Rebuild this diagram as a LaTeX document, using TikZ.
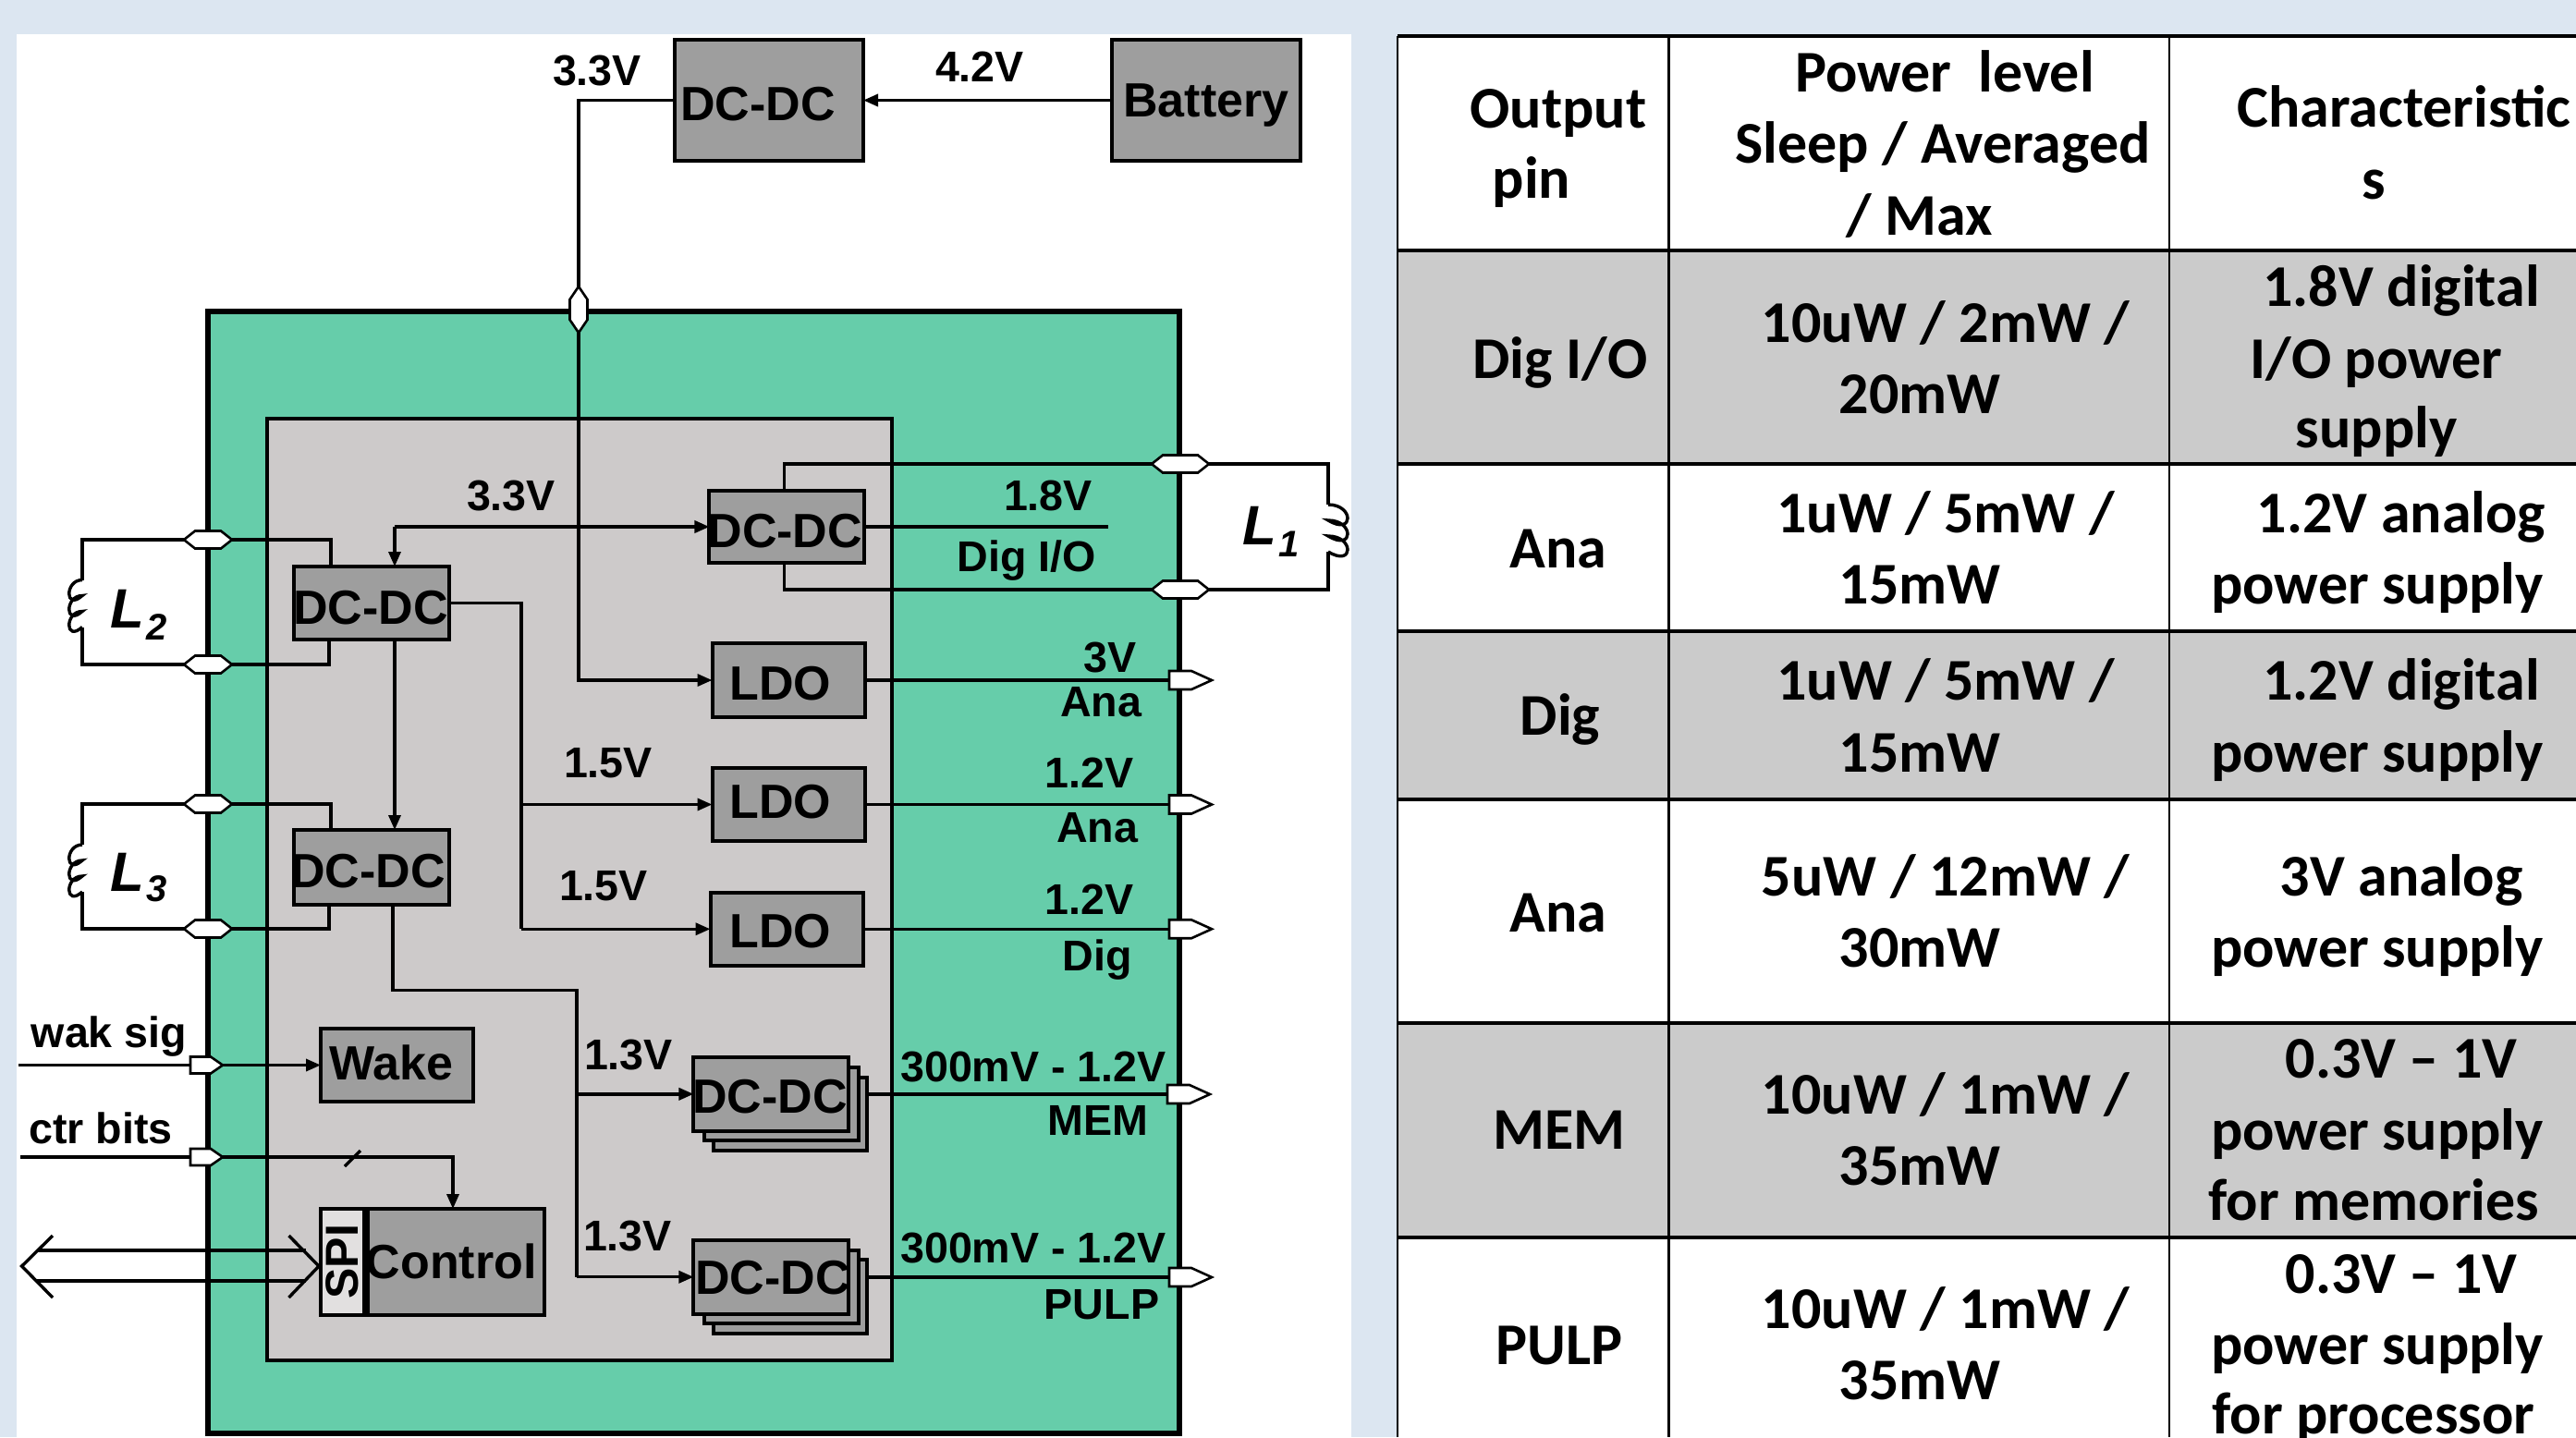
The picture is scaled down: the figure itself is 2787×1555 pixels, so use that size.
\documentclass[tikz,border=0pt]{standalone}
\usepackage{fontspec}
\usetikzlibrary{arrows.meta,calc}
\newfontfamily\diagfont{Liberation Sans}
\newfontfamily\tabfont{Carlito}
\definecolor{pagebg}{HTML}{DCE6F1}
\definecolor{chipgreen}{HTML}{66CDAA}
\definecolor{coregrey}{HTML}{CDCACA}
\definecolor{blockgrey}{HTML}{9E9E9E}
\definecolor{spigrey}{HTML}{E2E0E0}
\definecolor{rowgrey}{HTML}{CBCBCB}
\tikzset{
  wire/.style={draw=black,line width=1.7pt,line join=miter},
  arrowwire/.style={wire,-{Triangle[length=8pt,width=6.5pt]}},
  blockbox/.style={draw=black,line width=2pt,fill=blockgrey,inner sep=0pt,outer sep=0pt,
    text height=18.4pt,text depth=0pt,font=\diagfont\bfseries\fontsize{26}{26}\selectfont},
  stackbox/.style={draw=black,line width=2pt,fill=blockgrey},
  lab/.style={anchor=base,inner sep=0pt,font=\diagfont\bfseries\fontsize{23.3}{23.3}\selectfont},
  coillab/.style={anchor=base west,inner sep=0pt,font=\diagfont\bfseries\itshape\fontsize{30}{30}\selectfont},
  port/.style={draw=black,line width=1.3pt,fill=white,line join=miter},
  tabtext/.style={anchor=base,inner sep=0pt,yshift=-1pt,font=\tabfont\bfseries\fontsize{32}{32}\selectfont},
  tabline/.style={draw=black,line width=1.6pt},
  tablinev/.style={draw=black,line width=1.2pt},
}
\newcommand{\blk}[8]{\node[blockbox,minimum width={(#4-#2-4)*0.5pt},minimum height={(#5-#3-4)*0.5pt}] (#1) at ({(#2+#4)/2},{(#3+#5)/2}) {\kern#6\relax\raisebox{#7}{#8}\kern-\dimexpr#6\relax};}
\newcommand{\lbl}[4]{\node[lab] (#1) at (#2,#3) {#4};}
\newcommand{\tc}[4]{\node[tabtext] (#1) at (#2,#3) {#4};}
\newcommand{\outport}[1]{\draw[port] (#1) ++(-11,-10) -- ++(24,0) -- ++(22,10) -- ++(-22,10) -- ++(-24,0) -- cycle;}
\newcommand{\inport}[1]{\draw[port] (#1) ++(-19,-9) -- ++(22,0) -- ++(13,9) -- ++(-13,9) -- ++(-22,0) -- cycle;}
\newcommand{\hport}[2]{\draw[port] (#1) ++(-#2,0) -- ++(12,-9.5) -- ++({2*#2-24},0) -- ++(12,9.5) -- ++(-12,9.5) -- ++({-2*#2+24},0) -- cycle;}
\newcommand{\coil}[2]{\draw[wire] (#1) .. controls +(#2,0) and +(#2,17) .. ++(0,17) .. controls +(#2,0) and +(#2,17) .. ++(0,17) .. controls +(#2,0) and +(#2,17) .. ++(0,17);}
\begin{document}
\begin{tikzpicture}[x=0.5pt,y=-0.5pt]
\path[use as bounding box,clip] (0,0) rectangle (2787,1555);
\fill[pagebg] (0,0) rectangle (2787,1555);
\fill[white] (18,37) rectangle (1462,1555);
% chip
\draw[draw=black,line width=3.2pt,fill=chipgreen] (225,337) rectangle (1276,1551);
\draw[draw=black,line width=2pt,fill=coregrey] (289,452.5) rectangle (965,1472);
% coordinates
\coordinate (pinTop) at (626,335);
\coordinate (pinL1a) at (1277,502);
\coordinate (pinL1b) at (1277,638);
\coordinate (pinL2a) at (225,584);
\coordinate (pinL2b) at (225,719);
\coordinate (pinL3a) at (225,870);
\coordinate (pinL3b) at (225,1005);
\coordinate (pinWake) at (225,1152.5);
\coordinate (pinCtr) at (225,1252);
\coordinate (extWake) at (20,1152.5);
\coordinate (extCtr) at (22,1252);
\coordinate (coilLa) at (1437,546);
\coordinate (coilLb) at (89,627.5);
\coordinate (coilLc) at (89,914);
% blocks
\blk{topdc}{728}{41}{936}{176}{-6pt}{-2pt}{DC-DC}
\blk{batt}{1201}{41}{1409}{176}{0pt}{0pt}{Battery}
\blk{dcio}{766.5}{529}{936}{611}{-1pt}{-2pt}{DC-DC}
\blk{ldoA}{768.5}{694}{938}{778}{-4.5pt}{-1.5pt}{LDO}
\blk{ldoB}{768.5}{829}{938}{912}{-4.5pt}{1.5pt}{LDO}
\blk{ldoC}{766.5}{964}{936}{1046.5}{-3.5pt}{-1pt}{LDO}
\blk{dcB}{317.6}{611}{486.6}{694}{-0.5pt}{-2.5pt}{DC-DC}
\blk{dcC}{317.6}{896}{486.6}{980.6}{-2pt}{-2pt}{DC-DC}
\blk{wake}{345}{1111}{514}{1194}{-3pt}{1pt}{Wake}
\draw[stackbox] (772,1165.5) rectangle (938,1245);
\draw[stackbox] (762,1155) rectangle (928.6,1234);
\blk{dcM}{749}{1142}{919.4}{1225.6}{-0.5pt}{-1pt}{DC-DC}
\draw[stackbox] (772,1363) rectangle (938,1443);
\draw[stackbox] (762,1352.5) rectangle (928.6,1432);
\blk{dcP}{749}{1340}{919.4}{1423.5}{1pt}{0pt}{DC-DC}
\blk{ctrl}{395.5}{1306}{591}{1424.5}{-2.5pt}{0pt}{Control}
\node[draw=black,line width=2pt,fill=spigrey,inner sep=0pt,outer sep=0pt,minimum width=23.25pt,minimum height=57.25pt] (spi) at (370.25,1365.25) {\rotatebox{90}{\diagfont\bfseries\fontsize{25}{25}\selectfont SPI}};
% wires
\coordinate (busSplit) at (626,108.5);
\coordinate (jctIn) at (427,570);
\coordinate (bb) at (564,652.5);
\coordinate (cc) at (425,1071.5);
\coordinate (dd) at (624,1071.5);
\draw[wire] (topdc.west) -- (busSplit) -- (pinTop);
\draw[arrowwire] (pinTop) -- (ldoA.west -| pinTop) -- (ldoA.west);
\draw[arrowwire] (batt.west) -- (topdc.east);
\draw[arrowwire] (jctIn) -- (dcio.west);
\draw[arrowwire] (jctIn) -- (jctIn |- dcB.north);
\draw[arrowwire] (dcB.south -| jctIn) -- (dcC.north -| jctIn);
\draw[wire] (dcB.east) -- (bb) -- (bb |- ldoC.west);
\draw[arrowwire] (bb |- ldoB.west) -- (ldoB.west);
\draw[arrowwire] (bb |- ldoC.west) -- (ldoC.west);
\draw[wire] (dcC.south -| cc) -- (cc) -- (dd) -- (dd |- dcP.west);
\draw[arrowwire] (dd |- dcM.west) -- (dcM.west);
\draw[arrowwire] (dd |- dcP.west) -- (dcP.west);
\coordinate (dcioOut) at (1199,570);
\draw[wire] (dcio.east) -- (dcioOut);
\draw[wire] (ldoA.east) -- (ldoA.east -| pinL1a);
\draw[wire] (ldoB.east) -- (ldoB.east -| pinL1a);
\draw[wire] (ldoC.east) -- (ldoC.east -| pinL1a);
\coordinate (stackM) at (938,1184);
\coordinate (stackP) at (938,1382);
\draw[wire] (stackM) -- (stackM -| pinL1a);
\draw[wire] (stackP) -- (stackP -| pinL1a);
% L1 wiring
\coordinate (l1top) at (848.5,502);
\coordinate (l1bot) at (848.5,638);
\coordinate (l1r) at (1437,502);
\coordinate (l1e) at (1437,597);
\draw[wire] (l1top |- dcio.north) -- (l1top) -- (l1r) -- (coilLa);
\draw[wire] (l1bot |- dcio.south) -- (l1bot) -- (l1bot -| l1r) -- (l1e);
\coil{coilLa}{28}
% L2 wiring
\coordinate (l2a) at (358,584);
\coordinate (l2b) at (356,719);
\coordinate (l2l) at (89,584);
\coordinate (l2e) at (89,678.5);
\draw[wire] (l2a |- dcB.north) -- (l2a) -- (l2l) -- (coilLb);
\draw[wire] (l2b |- dcB.south) -- (l2b) -- (l2b -| l2l) -- (l2e);
\coil{coilLb}{-19}
% L3 wiring
\coordinate (l3a) at (358,870);
\coordinate (l3b) at (356,1005);
\coordinate (l3l) at (89,870);
\coordinate (l3e) at (89,965);
\draw[wire] (l3a |- dcC.north) -- (l3a) -- (l3l) -- (coilLc);
\draw[wire] (l3b |- dcC.south) -- (l3b) -- (l3b -| l3l) -- (l3e);
\coil{coilLc}{-19}
% signals
\draw[arrowwire] (extWake) -- (wake.west);
\coordinate (ctrTurn) at (490,1252);
\draw[arrowwire] (extCtr) -- (ctrTurn) -- (ctrTurn |- ctrl.north);
\coordinate (slashA) at (373,1262);
\coordinate (slashB) at (390,1245);
\draw[wire] (slashA) -- (slashB);
% SPI bus
\coordinate (busTipL) at (23.6,1370);
\coordinate (busTipR) at (345,1370);
\draw[wire] (40,1353) -- (331,1353);
\draw[wire] (40,1386) -- (331,1386);
\draw[wire] (57,1337) -- (busTipL) -- (57,1404);
\draw[wire] (312.5,1337) -- (busTipR) -- (312.5,1404);
% ports
\draw[port] (pinTop) ++(0,-25) -- ++(9.5,14) -- ++(0,22) -- ++(-9.5,14) -- ++(-9.5,-14) -- ++(0,-22) -- cycle;
\hport{pinL1a}{31}
\hport{pinL1b}{31}
\hport{pinL2a}{26}
\hport{pinL2b}{26}
\hport{pinL3a}{26}
\hport{pinL3b}{26}
\coordinate (outA) at (1276,736);
\coordinate (outB) at (1276,870.5);
\coordinate (outC) at (1276,1005.25);
\coordinate (outM) at (1274,1184);
\coordinate (outP) at (1276,1382);
\outport{outA}\outport{outB}\outport{outC}\outport{outM}\outport{outP}
\inport{pinWake}\inport{pinCtr}
% labels
\lbl{vTop}{646}{92}{3.3V}
\lbl{vBat}{1060}{88}{4.2V}
\lbl{vIn}{553}{552}{3.3V}
\lbl{vIO}{1134}{552.5}{1.8V}
\lbl{nIO}{1111}{618}{Dig I/O}
\lbl{v3}{1201}{727}{3V}
\lbl{nAnaA}{1191}{775.5}{Ana}
\lbl{v15a}{658}{841}{1.5V}
\lbl{v15b}{653}{974}{1.5V}
\lbl{v12a}{1178.6}{852}{1.2V}
\lbl{nAnaB}{1187}{911}{Ana}
\lbl{v12b}{1178.6}{989}{1.2V}
\lbl{nDig}{1187}{1050}{Dig}
\lbl{v13a}{680}{1157}{1.3V}
\lbl{v13b}{679}{1353}{1.3V}
\lbl{vMem}{1118}{1170}{300mV - 1.2V}
\lbl{nMem}{1188}{1228.5}{MEM}
\lbl{vPulp}{1118}{1366}{300mV - 1.2V}
\lbl{nPulp}{1192}{1427}{PULP}
\lbl{nWak}{118}{1133}{wak sig}
\lbl{nCtr}{109}{1237}{ctr bits}
\node[coillab] (labL1) at (1344,589) {L\kern1pt\raisebox{-6.5pt}{\fontsize{20}{20}\selectfont 1}};
\node[coillab] (labL2) at (119,679.6) {L\kern1pt\raisebox{-6.5pt}{\fontsize{20}{20}\selectfont 2}};
\node[coillab] (labL3) at (119,964.7) {L\kern1pt\raisebox{-5.5pt}{\fontsize{20}{20}\selectfont 3}};
% table
\fill[white] (1512,39) rectangle (2787,1555);
\fill[rowgrey] (1512,271) rectangle (2787,502);
\fill[rowgrey] (1512,683) rectangle (2787,865);
\fill[rowgrey] (1512,1107) rectangle (2787,1339);
\foreach \yy in {39,271,502,683,865,1107,1339} {\draw[tabline] (1512,\yy) -- (2787,\yy);}
\foreach \xx in {1512,1805.5,2347} {\draw[tablinev] (\xx,39) -- (\xx,1555);}
\tc{h1a}{1686}{136}{Output}
\tc{h1b}{1657}{212}{pin}
\tc{h2a}{2104}{97}{Power\ \ level}
\tc{h2b}{2102}{174.5}{Sleep / Averaged}
\tc{h2c}{2077}{252.5}{/ Max}
\tc{h3a}{2601}{135}{Characteristic}
\tc{h3b}{2568.5}{213}{s}
\tc{r1a}{1688}{407}{Dig I/O}
\tc{r1b}{2105}{368}{10uW / 2mW /}
\tc{r1c}{2077}{445}{20mW}
\tc{r1d}{2598}{329}{1.8V digital}
\tc{r1e}{2571}{407}{I/O power}
\tc{r1f}{2571}{482}{supply}
\tc{r2a}{1686}{612}{Ana}
\tc{r2b}{2105}{574}{1uW / 5mW /}
\tc{r2c}{2077}{651.5}{15mW}
\tc{r2d}{2598}{574}{1.2V analog}
\tc{r2e}{2572}{651.5}{power supply}
\tc{r3a}{1688}{793}{Dig}
\tc{r3b}{2105}{755}{1uW / 5mW /}
\tc{r3c}{2077}{833}{15mW}
\tc{r3d}{2598}{755}{1.2V digital}
\tc{r3e}{2572}{833}{power supply}
\tc{r4a}{1686}{1006}{Ana}
\tc{r4b}{2105}{967}{5uW / 12mW /}
\tc{r4c}{2077}{1044}{30mW}
\tc{r4d}{2598}{967}{3V analog}
\tc{r4e}{2572}{1044}{power supply}
\tc{r5a}{1687}{1241.5}{MEM}
\tc{r5b}{2105}{1203}{10uW / 1mW /}
\tc{r5c}{2077}{1280}{35mW}
\tc{r5d}{2598}{1164.5}{0.3V – 1V}
\tc{r5e}{2572}{1242}{power supply}
\tc{r5f}{2568.5}{1318.5}{for memories}
\tc{r6a}{1687}{1474}{PULP}
\tc{r6b}{2105}{1435.5}{10uW / 1mW /}
\tc{r6c}{2077}{1512.5}{35mW}
\tc{r6d}{2598}{1397}{0.3V – 1V}
\tc{r6e}{2572}{1474}{power supply}
\tc{r6f}{2568}{1549}{for processor}
\end{tikzpicture}
\end{document}
